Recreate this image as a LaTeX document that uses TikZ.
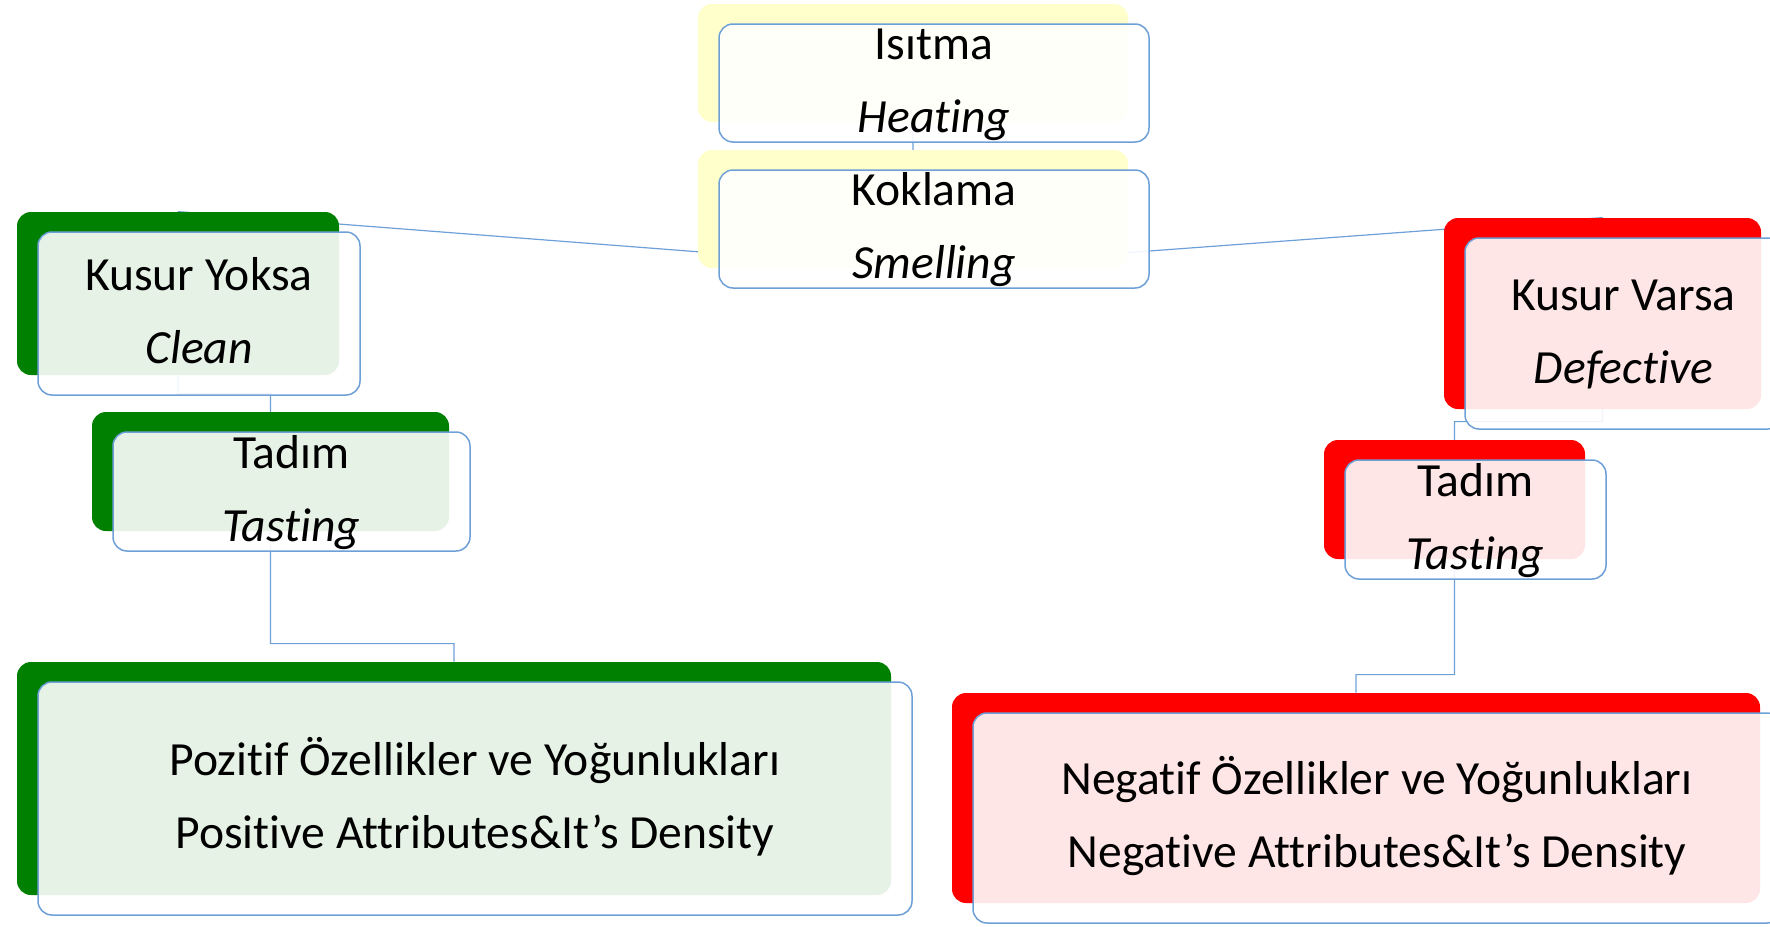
\documentclass[tikz,border=0pt]{standalone}
\usepackage{fontspec}
\setmainfont{Carlito}[Ligatures=NoCommon]
\usepackage{xcolor}
\usetikzlibrary{backgrounds}

\definecolor{okgreen}{RGB}{0,128,0}
\definecolor{badred}{RGB}{255,0,0}
\definecolor{warmyellow}{RGB}{255,255,204}
\definecolor{edge}{RGB}{110,160,216}

% two stacked lines, baseline on the first one
\newcommand{\duo}[2]{\begin{tabular}[t]{@{}c@{}}#1\\#2\end{tabular}}

\begin{document}
\begin{tikzpicture}[x=0.5pt,y=-0.5pt,
    back node/.style={rectangle, rounded corners=7pt, inner sep=0pt},
    front node/.style={rectangle, rounded corners=7pt, inner sep=0pt, draw=edge, line width=0.75pt,
        fill=white, fill opacity=0.9, text opacity=1, text height=6.5pt, text depth=30pt,
        font=\fontsize{23.8}{36.5}\selectfont},
    link/.style={draw=edge, line width=0.6pt}]

    \useasboundingbox (0,0) rectangle (1770,926);
    \clip (0,0) rectangle (1770,926);

    % coloured backs
    \node[back node, fill=warmyellow, minimum width=215pt, minimum height=59pt] (b1) at (913,63) {};
    \node[back node, fill=warmyellow, minimum width=215pt, minimum height=59pt] (b2) at (913,209) {};
    \node[back node, fill=okgreen, minimum width=161pt, minimum height=81.5pt] (b3) at (178,293.5) {};
    \node[back node, fill=okgreen, minimum width=178.5pt, minimum height=59.5pt] (b4) at (270.5,471.5) {};
    \node[back node, fill=okgreen, minimum width=437pt, minimum height=116.5pt] (b5) at (454,778.5) {};
    \node[back node, fill=badred, minimum width=158.5pt, minimum height=95.5pt] (b6) at (1602.5,313.5) {};
    \node[back node, fill=badred, minimum width=130.5pt, minimum height=59.5pt] (b7) at (1454.5,499.5) {};
    \node[back node, fill=badred, minimum width=404pt, minimum height=105pt] (b8) at (1356,798) {};

    % connectors sit behind the boxes
    \begin{scope}[on background layer]
    \path[link]
        (b1.center) -- (b2.center)
        (b2.south) -- (b3.north)
        (b2.south) -- (b6.north)
        (b3.north) |- ([yshift=9pt]b4.north) -- (b4.north)
        (b4.north) |- ([yshift=9pt]b5.north) -- (b5.north)
        (b6.north) |- ([yshift=9pt]b7.north) -- (b7.north)
        (b7.north) |- ([yshift=9pt]b8.north) -- (b8.north);
    \end{scope}

    % text boxes
    \node[front node, minimum width=215pt, minimum height=59pt] (1) at ([shift={(21,20)}]b1.center) {\duo{Isıtma}{\textit{Heating}}};
    \node[front node, minimum width=215pt, minimum height=59pt] (2) at ([shift={(21,20)}]b2.center) {\duo{Koklama}{\textit{Smelling}}};
    \node[front node, minimum width=161pt, minimum height=81.5pt] (3) at ([shift={(21,20)}]b3.center) {\duo{Kusur Yoksa}{\textit{Clean}}};
    \node[front node, minimum width=178.5pt, minimum height=59.5pt] (4) at ([shift={(21,20)}]b4.center) {\duo{Tadım}{\textit{Tasting}}};
    \node[front node, minimum width=437pt, minimum height=116.5pt] (5) at ([shift={(21,20)}]b5.center) {\duo{Pozitif Özellikler ve Yoğunlukları}{Positive Attributes\&It’s Density}};
    \node[front node, minimum width=158.5pt, minimum height=95.5pt] (6) at ([shift={(21,20)}]b6.center) {\duo{Kusur Varsa}{\textit{Defective}}};
    \node[front node, minimum width=130.5pt, minimum height=59.5pt] (7) at ([shift={(21,20)}]b7.center) {\duo{Tadım}{\textit{Tasting}}};
    \node[front node, minimum width=404pt, minimum height=105pt] (8) at ([shift={(21,20)}]b8.center) {\duo{Negatif Özellikler ve Yoğunlukları}{Negative Attributes\&It’s Density}};
\end{tikzpicture}
\end{document}
